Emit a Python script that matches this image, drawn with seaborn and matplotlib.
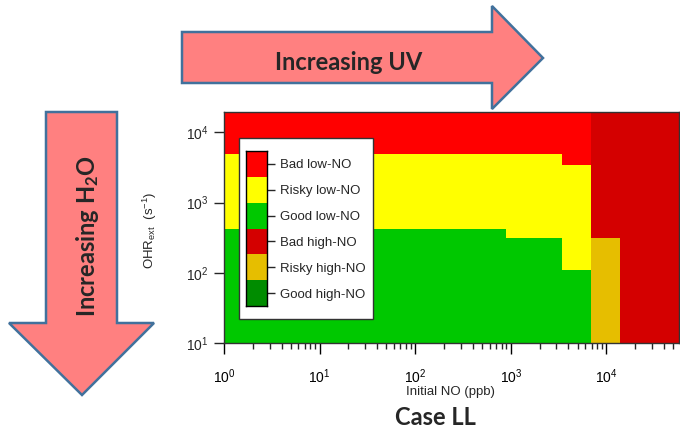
import numpy as np
import matplotlib
matplotlib.use("Agg")
import matplotlib.pyplot as plt
from matplotlib.colors import ListedColormap, BoundaryNorm
from matplotlib.patches import Polygon, Rectangle
import seaborn as sns

# ---------------- data ----------------
categories = ["Bad low-NO", "Risky low-NO", "Good low-NO",
              "Bad high-NO", "Risky high-NO", "Good high-NO"]
category_colors = ["#FF0000", "#FFFF00", "#00C800",
                   "#D40000", "#E6BE00", "#008C00"]

no_edges = [1, 890, 3470, 6950, 14000, 57500]            # Initial NO (ppb)
ohr_edges = [10, 110, 310, 420, 3400, 5000, 19500]       # OHR_ext (s^-1)
# regime index per cell: rows = OHR bands (low -> high), cols = NO bands
regime_grid = [
    [2, 2, 2, 4, 3],
    [2, 2, 1, 4, 3],
    [2, 1, 1, 3, 3],
    [1, 1, 1, 3, 3],
    [1, 1, 0, 3, 3],
    [0, 0, 0, 3, 3],
]
x_ticks = [1, 10, 100, 1000, 10000]
x_tick_labels = ["0", "1", "2", "3", "4"]
y_ticks = [10, 100, 1000, 10000]
y_tick_labels = ["1", "2", "3", "4"]

# ---------------- style ----------------
sns.set_style("ticks")
plt.rcParams["font.family"] = ["Liberation Sans", "DejaVu Sans"]
plt.rcParams["mathtext.default"] = "regular"

W, H = 680, 433
fig = plt.figure(figsize=(W / 100, H / 100), dpi=100)


def fx(x):
    return x / W


def fy(y):
    return 1 - y / H


# ---------------- arrows ----------------
arrow_face = "#FF8080"
arrow_edge = "#41719C"
right_arrow = [(182, 32), (492, 32), (492, 6), (543, 58), (492, 109), (492, 83), (182, 83)]
down_arrow = [(46, 112), (117, 112), (117, 323), (154, 323), (82, 395), (9, 323), (46, 323)]
for pts in (right_arrow, down_arrow):
    fig.add_artist(Polygon([(fx(x), fy(y)) for x, y in pts], closed=True,
                           transform=fig.transFigure, facecolor=arrow_face,
                           edgecolor=arrow_edge, linewidth=1.8, zorder=1))

fig.text(fx(349), fy(69.5), "Increasing UV", ha="center", va="baseline",
         fontsize=17, fontweight="bold", family=["Lato", "DejaVu Sans"], zorder=3)
fig.text(fx(95), fy(236), r"Increasing H$\mathregular{_2}$O", ha="center", va="baseline",
         rotation=90, rotation_mode="anchor",
         fontsize=17, fontweight="bold", family=["Lato", "DejaVu Sans"], zorder=3)

# ---------------- main map ----------------
ax = fig.add_axes([fx(224), fy(343.3), 455 / W, (343.3 - 112) / H], zorder=2)
cmap = ListedColormap(category_colors)
norm = BoundaryNorm(np.arange(-0.5, len(categories)), cmap.N)
ax.pcolormesh(no_edges, ohr_edges, np.array(regime_grid), cmap=cmap, norm=norm,
              shading="flat", edgecolors="face", linewidth=0)
ax.set_xscale("log")
ax.set_yscale("log")
ax.set_xlim(no_edges[0], no_edges[-1])
ax.set_ylim(ohr_edges[0], ohr_edges[-1])
ax.set_xticks(x_ticks)
ax.set_xticklabels([r"$\mathregular{10^{%s}}$" % t for t in x_tick_labels])
ax.set_yticks(y_ticks)
ax.set_yticklabels([r"$\mathregular{10^{%s}}$" % t for t in y_tick_labels])
ax.yaxis.set_minor_locator(matplotlib.ticker.NullLocator())
ax.tick_params(axis="x", which="major", direction="out", length=8, width=1,
               pad=9, labelsize=10, colors="black")
ax.tick_params(axis="x", which="minor", direction="out", length=4.5, width=1)
ax.tick_params(axis="y", which="major", direction="out", length=7, width=1,
               pad=4, labelsize=10)
for s in ax.spines.values():
    s.set_visible(True)
    s.set_color("#333333")
    s.set_linewidth(1)

fig.text(fx(450), fy(392), "Initial NO (ppb)", ha="center", va="center", fontsize=9.5)
fig.text(fx(150), fy(230), r"OHR$\mathregular{_{ext}}$  (s$\mathregular{^{-1}}$)",
         ha="center", va="center", rotation=90, fontsize=9.5)
fig.text(fx(435), fy(425), "Case LL", ha="center", va="baseline",
         fontsize=17, fontweight="bold", family=["Lato", "DejaVu Sans"])

# ---------------- legend (colour key) ----------------
fig.add_artist(Rectangle((fx(239), fy(319)), (373 - 239) / W, (319 - 138) / H,
                         transform=fig.transFigure, facecolor="white",
                         edgecolor="#333333", linewidth=1, zorder=4))
lax = fig.add_axes([fx(246), fy(306), (267 - 246) / W, (306 - 151) / H], zorder=5)
sns.heatmap(np.arange(len(categories)).reshape(-1, 1), cmap=cmap, norm=norm,
            cbar=False, ax=lax, linewidths=0)
lax.set_xticks([])
lax.yaxis.tick_right()
lax.set_yticks(np.arange(len(categories)) + 0.5)
lax.set_yticklabels(categories, rotation=0, fontsize=9.5)
lax.tick_params(axis="y", direction="out", length=5.5, width=1, pad=4, left=False, right=True)
for s in lax.spines.values():
    s.set_visible(True)
    s.set_color("black")
    s.set_linewidth(1)

fig.savefig("out.png", dpi=100)
